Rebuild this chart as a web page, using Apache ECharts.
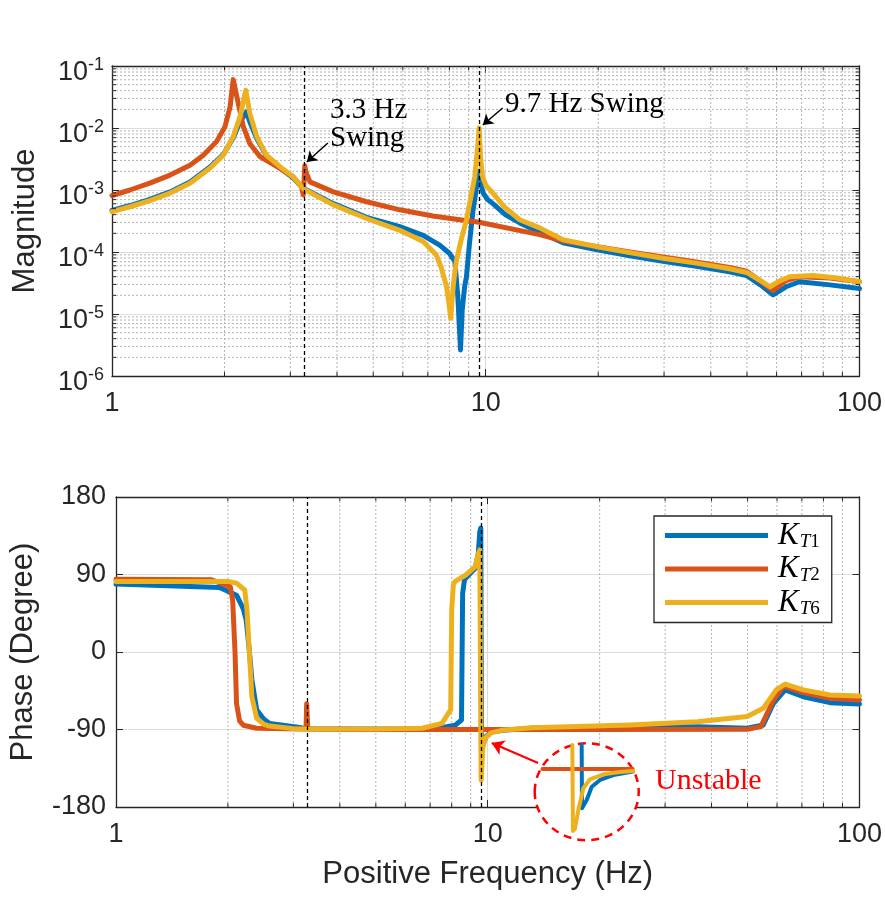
<!DOCTYPE html>
<html>
<head>
<meta charset="utf-8">
<script src="https://cdn.jsdelivr.net/npm/echarts@6/dist/echarts.min.js"></script>
<style>
html, body { margin: 0; padding: 0; background: #fff; }
#main { width: 885px; height: 905px; }
</style>
</head>
<body>
<div id="main"></div>
<script>
// ---- magnitude traces (Hz, |G|) ----
const magFreqT1 = [1.00, 1.117, 1.263, 1.43, 1.617, 1.828, 1.984, 2.11, 2.20, 2.29, 2.337, 2.44, 2.59, 2.81, 3.05, 3.25, 3.91, 4.8, 5.89, 6.8, 7.53, 7.99, 8.27, 8.42, 8.50, 8.56, 8.65, 8.78, 8.88, 9.05, 9.25, 9.45, 9.60, 9.70, 9.85, 10.1, 10.45, 11.3, 12.33, 13.94, 16.1, 19.7, 24.3, 29.8, 36.6, 44.9, 49.9, 54.3, 58.7, 63.6, 69.1, 83.3, 100];
const magT1 = [4.68e-4, 5.62e-4, 7.08e-4, 9.33e-4, 1.35e-3, 2.34e-3, 3.72e-3, 6.92e-3, 1.26e-2, 1.82e-2, 1.26e-2, 6.76e-3, 3.55e-3, 2.29e-3, 1.58e-3, 1.07e-3, 6.03e-4, 3.63e-4, 2.57e-4, 1.86e-4, 1.29e-4, 9.55e-5, 7.08e-5, 1.91e-5, 6.31e-6, 2.63e-6, 1.15e-5, 2.75e-5, 3.98e-5, 1.41e-4, 4.79e-4, 1.12e-3, 2.0e-3, 1.26e-3, 8.91e-4, 7.08e-4, 6.03e-4, 3.98e-4, 2.95e-4, 2.09e-4, 1.41e-4, 1.10e-4, 8.71e-5, 7.08e-5, 5.89e-5, 4.79e-5, 4.17e-5, 2.95e-5, 2.04e-5, 2.75e-5, 3.31e-5, 2.95e-5, 2.57e-5];

const magFreqT2 = [1.00, 1.117, 1.263, 1.43, 1.617, 1.755, 1.904, 2.006, 2.07, 2.11, 2.177, 2.246, 2.337, 2.487, 2.758, 3.05, 3.215, 3.25, 3.28, 3.30, 3.385, 3.91, 4.8, 5.89, 7.22, 8.52, 9.60, 13.94, 16.1, 19.7, 24.3, 29.8, 36.6, 44.9, 49.9, 54.3, 58.7, 63.6, 69.1, 83.3, 100];
const magT2 = [8.13e-4, 1.0e-3, 1.29e-3, 1.74e-3, 2.51e-3, 3.63e-3, 6.03e-3, 1.05e-2, 2.19e-2, 6.03e-2, 2.51e-2, 1.05e-2, 5.62e-3, 3.47e-3, 2.40e-3, 1.64e-3, 1.12e-3, 8.32e-4, 2.45e-3, 2.0e-3, 1.35e-3, 9.33e-4, 6.46e-4, 4.79e-4, 3.80e-4, 3.31e-4, 3.02e-4, 1.91e-4, 1.51e-4, 1.23e-4, 1.0e-4, 8.32e-5, 6.92e-5, 5.62e-5, 4.90e-5, 3.39e-5, 2.40e-5, 3.47e-5, 3.98e-5, 3.80e-5, 3.31e-5];

const magFreqT6 = [1.00, 1.117, 1.263, 1.43, 1.617, 1.828, 1.984, 2.11, 2.20, 2.28, 2.337, 2.44, 2.59, 2.81, 3.05, 3.25, 3.91, 4.8, 5.89, 6.8, 7.38, 7.60, 7.85, 7.98, 8.06, 8.12, 8.20, 8.35, 8.60, 8.88, 9.10, 9.35, 9.50, 9.60, 9.68, 9.80, 10.0, 10.45, 11.2, 12.33, 13.94, 16.1, 19.7, 24.3, 29.8, 36.6, 44.9, 49.9, 54.3, 57.6, 61, 65, 75, 87, 100];
const magT6 = [4.47e-4, 5.37e-4, 6.76e-4, 8.91e-4, 1.29e-3, 2.24e-3, 3.63e-3, 7.24e-3, 1.51e-2, 4.07e-2, 1.74e-2, 7.24e-3, 3.63e-3, 2.40e-3, 1.64e-3, 1.05e-3, 5.75e-4, 3.47e-4, 2.24e-4, 1.48e-4, 8.91e-5, 5.62e-5, 2.82e-5, 1.41e-5, 8.51e-6, 1.58e-5, 3.16e-5, 7.41e-5, 1.58e-4, 3.31e-4, 7.08e-4, 1.66e-3, 4.47e-3, 1.0e-2, 3.55e-3, 1.66e-3, 1.20e-3, 8.91e-4, 5.37e-4, 3.31e-4, 2.45e-4, 1.58e-4, 1.23e-4, 9.77e-5, 7.94e-5, 6.61e-5, 5.37e-5, 4.68e-5, 3.47e-5, 2.75e-5, 3.39e-5, 3.98e-5, 4.17e-5, 3.80e-5, 3.31e-5];

// ---- phase traces (Hz, degree) ----
const phFreqT1 = [1.0, 1.9, 2.11, 2.2, 2.24, 2.28, 2.32, 2.39, 2.5, 2.59, 3.05, 3.26, 4.0, 6.66, 7.5, 8.17, 8.5, 8.56, 8.66, 9.0, 9.25, 9.43, 9.52, 9.58, 9.62, 9.7, 9.9, 10.2, 11, 13.1, 24, 36.6, 49.9, 55.1, 58.7, 63.1, 70.6, 83.3, 100];
const phT1 = [79, 75, 66, 50, 37, 5, -32, -67, -78, -83, -87, -89, -89.5, -89, -88, -85, -79, 68, 84, 92, 97, 114, 140, 144, -125, -108, -98, -93, -91, -88.6, -87, -86.7, -88.6, -84.8, -59.5, -44, -51.9, -58.8, -60.4];

const phFreqT2 = [1.0, 1.8, 2.03, 2.06, 2.09, 2.11, 2.15, 2.2, 2.39, 3.2, 3.245, 3.258, 3.266, 3.28, 5, 20, 50, 54.3, 58.7, 62.5, 70.6, 83.3, 100];
const phT2 = [84.4, 84, 76, 60, 0, -60, -80, -85, -88.6, -89.5, -89.5, -60, -60, -89.5, -90, -90, -89.7, -86.7, -55.7, -39.5, -47.2, -53.8, -55.7];

const phFreqT6 = [1.0, 2.0, 2.11, 2.22, 2.25, 2.28, 2.32, 2.39, 2.5, 2.59, 3.0, 3.26, 5, 6.66, 7.53, 7.95, 8.0, 8.08, 8.17, 8.7, 9.25, 9.43, 9.52, 9.57, 9.60, 9.65, 9.7, 9.85, 10.2, 10.9, 13.1, 24.2, 36.6, 49.9, 55.1, 59.7, 63.1, 70.6, 83.3, 100];
const phT6 = [82, 82, 80, 72, 50, 6, -52, -77, -84, -86, -89, -89.5, -89.5, -88.6, -82.8, -67, 49, 78, 82, 89, 99, 114, 118.5, 120, -149, -130, -110, -100, -94, -91, -88, -84.8, -81, -75, -65.4, -44, -37.2, -44, -50, -51];

// ---- zoomed inset (local 0..100 units of the circle) ----
const insetU_T1 = [45.4, 45.7, 50.2, 55, 62.9, 75.5, 94.3];
const insetV_T1 = [97.9, 32.7, 41.2, 54.9, 61.9, 67, 70.6];
const insetU_T2 = [8, 94];
const insetV_T2 = [73.2, 73.2];
const insetU_T6 = [36.5, 37.1, 39, 42.2, 47, 53.3, 66, 81.9, 94.6];
const insetV_T6 = [97.9, 9.3, 11.5, 30.9, 53.3, 62.6, 67.7, 70.1, 71.1];

// ---- axes ticks / guides ----
const swingFreqs = [3.26, 9.6];
const minorMultipliers = [2, 3, 4, 5, 6, 7, 8, 9];
const freqDecades = [1, 10];
const magDecades = [1e-6, 1e-5, 1e-4, 1e-3, 1e-2];
const seriesNames = ['KT1', 'KT2', 'KT6'];
const colors = ['#0072BD', '#D95319', '#EDB120'];

const minorFreq = [];
freqDecades.forEach(d => minorMultipliers.forEach(m => minorFreq.push(m * d)));
const minorMag = [];
magDecades.forEach(d => minorMultipliers.forEach(m => minorMag.push(m * d)));

const pairs = (xs, ys) => xs.map((x, i) => [x, ys[i]]);

const axisColor = '#262626';
const sans = 'Liberation Sans';
const serif = 'Liberation Serif';

function guide(xi, yi, z, lines, style, symbol, symbolSize) {
    return {
        type: 'line', xAxisIndex: xi, yAxisIndex: yi, data: [], z: z, silent: true,
        markLine: {
            silent: true, animation: false, precision: 12,
            symbol: symbol || 'none', symbolSize: symbolSize || 0,
            label: {show: false},
            emphasis: {disabled: true},
            lineStyle: style,
            data: lines
        }
    };
}

// segments drawn through the axes: each item is [x1, y1, x2, y2] in data units,
// or a single point [x, y] plus a pixel direction for short tick marks
function segs(xi, yi, z, items, dir, style) {
    return {
        type: 'custom', xAxisIndex: xi, yAxisIndex: yi, z: z, silent: true, clip: false,
        data: items,
        renderItem: function (params, api) {
            const p = api.coord([api.value(0), api.value(1)]);
            let q;
            if (dir) {
                q = [p[0] + dir[0], p[1] + dir[1]];
            } else {
                q = api.coord([api.value(2), api.value(3)]);
            }
            return {type: 'line', shape: {x1: p[0], y1: p[1], x2: q[0], y2: q[1]}, style: style};
        }
    };
}

function trace(name, idx, xi, yi, data, width, z) {
    return {
        name: name, type: 'line', xAxisIndex: xi, yAxisIndex: yi,
        data: data, showSymbol: false, symbol: 'none', z: z || 2,
        lineStyle: {color: colors[idx], width: width || 5, join: 'round', cap: 'round'},
        itemStyle: {color: colors[idx]},
        emphasis: {disabled: true}
    };
}

const minorGridStyle = {stroke: '#b4b4b4', lineWidth: 1, lineDash: [2, 2]};
const tickStyle = {stroke: axisColor, lineWidth: 1};
const TL = 4;

function xAx(grid, pos, withLabel, name) {
    return {
        gridIndex: grid, type: 'log', logBase: 10, min: 1, max: 100, position: pos,
        name: name || '', nameLocation: 'middle', nameGap: 52,
        nameTextStyle: {fontFamily: sans, fontSize: 31, color: axisColor},
        axisLine: {onZero: false, lineStyle: {color: axisColor, width: 1.3}},
        axisTick: {inside: true, length: 7, lineStyle: {color: axisColor}},
        axisLabel: {show: withLabel, fontFamily: sans, fontSize: 27, color: axisColor, margin: 14},
        splitLine: {show: withLabel, lineStyle: {color: '#dcdcdc', width: 1}},
        minorTick: {show: false}
    };
}

const option = {
    animation: false,
    backgroundColor: '#fff',
    grid: [
        {left: 112, top: 66, width: 748, height: 310},
        {left: 112, top: 497, width: 748, height: 310},
        {left: 534, top: 743, width: 105, height: 97}
    ],
    xAxis: [
        xAx(0, 'bottom', true),
        xAx(0, 'top', false),
        xAx(1, 'bottom', true, 'Positive Frequency (Hz)'),
        xAx(1, 'top', false),
        {gridIndex: 2, type: 'value', min: 0, max: 100, show: false}
    ],
    yAxis: [
        {
            gridIndex: 0, type: 'log', logBase: 10, min: 1e-6, max: 1e-1, position: 'left',
            name: 'Magnitude', nameLocation: 'middle', nameGap: 71, nameRotate: 90,
            nameTextStyle: {fontFamily: sans, fontSize: 31, color: axisColor},
            axisLine: {lineStyle: {color: axisColor, width: 1.3}},
            axisTick: {inside: true, length: 7, lineStyle: {color: axisColor}},
            axisLabel: {
                fontFamily: sans, color: axisColor, margin: 8,
                formatter: v => '{b|10}{e|' + Math.round(Math.log10(v)) + '}',
                rich: {
                    b: {fontFamily: sans, fontSize: 27, color: axisColor, padding: [14, 0, 0, 0]},
                    e: {fontFamily: sans, fontSize: 18, color: axisColor, padding: [0, 0, 2, 0]}
                }
            },
            splitLine: {show: true, lineStyle: {color: '#dcdcdc', width: 1}}
        },
        {
            gridIndex: 0, type: 'log', logBase: 10, min: 1e-6, max: 1e-1, position: 'right',
            axisLine: {lineStyle: {color: axisColor, width: 1.3}},
            axisTick: {inside: true, length: 7, lineStyle: {color: axisColor}},
            axisLabel: {show: false}, splitLine: {show: false}
        },
        {
            gridIndex: 1, type: 'value', min: -180, max: 180, interval: 90, position: 'left',
            name: 'Phase (Degree)', nameLocation: 'middle', nameGap: 77, nameRotate: 90,
            nameTextStyle: {fontFamily: sans, fontSize: 31, color: axisColor},
            axisLine: {show: true, onZero: false, lineStyle: {color: axisColor, width: 1.3}},
            axisTick: {show: true, inside: true, length: 7, lineStyle: {color: axisColor}},
            axisLabel: {fontFamily: sans, fontSize: 27, color: axisColor, margin: 10},
            splitLine: {show: true, lineStyle: {color: '#dcdcdc', width: 1}}
        },
        {
            gridIndex: 1, type: 'value', min: -180, max: 180, interval: 90, position: 'right',
            axisLine: {show: true, onZero: false, lineStyle: {color: axisColor, width: 1.3}},
            axisTick: {show: true, inside: true, length: 7, lineStyle: {color: axisColor}},
            axisLabel: {show: false}, splitLine: {show: false}
        },
        {gridIndex: 2, type: 'value', min: 0, max: 100, show: false}
    ],
    legend: {
        data: seriesNames,
        orient: 'vertical', left: 654, top: 516,
        icon: 'rect', itemWidth: 103, itemHeight: 5, itemGap: 2,
        padding: [4, 12, 4, 11],
        borderColor: axisColor, borderWidth: 1.3, backgroundColor: '#fff',
        selectedMode: false,
        formatter: n => '{k|K}{t|T}{n|' + n.slice(2) + '}',
        textStyle: {
            rich: {
                k: {fontFamily: serif, fontStyle: 'italic', fontSize: 31, color: '#000', padding: [0, 1, 0, 5]},
                t: {fontFamily: serif, fontStyle: 'italic', fontSize: 19, color: '#000', padding: [13, 0, 0, 0]},
                n: {fontFamily: serif, fontSize: 19, color: '#000', padding: [13, 0, 0, 0]}
            }
        }
    },
    graphic: [
        {type: 'text', x: 330, y: 110, z: 10, style: {text: '3.3 Hz', fontFamily: serif, fontSize: 29, fill: '#000', verticalAlign: 'middle'}},
        {type: 'text', x: 330, y: 138, z: 10, style: {text: 'Swing', fontFamily: serif, fontSize: 29, fill: '#000', verticalAlign: 'middle'}},
        {type: 'text', x: 505, y: 104, z: 10, style: {text: '9.7 Hz Swing', fontFamily: serif, fontSize: 29, fill: '#000', verticalAlign: 'middle'}},
        {type: 'text', x: 655, y: 781, z: 10, style: {text: 'Unstable', fontFamily: serif, fontSize: 30, fill: '#f00', verticalAlign: 'middle'}},
        {type: 'ellipse', z: 5, shape: {cx: 586.7, cy: 791.7, rx: 52, ry: 48.5},
         style: {fill: '#fff', stroke: '#f00', lineWidth: 2.5, lineDash: [8, 6]}}
    ],
    series: [
        // minor grid
        segs(0, 0, 1, minorFreq.map(f => [f, 1e-6, f, 1e-1]).concat(minorMag.map(v => [1, v, 100, v])), null, minorGridStyle),
        segs(2, 2, 1, minorFreq.map(f => [f, -180, f, 180]), null, minorGridStyle),

        trace('KT1', 0, 0, 0, pairs(magFreqT1, magT1)),
        trace('KT2', 1, 0, 0, pairs(magFreqT2, magT2)),
        trace('KT6', 2, 0, 0, pairs(magFreqT6, magT6)),
        trace('KT1', 0, 2, 2, pairs(phFreqT1, phT1)),
        trace('KT2', 1, 2, 2, pairs(phFreqT2, phT2)),
        trace('KT6', 2, 2, 2, pairs(phFreqT6, phT6)),

        // minor ticks, inside, on all four sides
        segs(0, 0, 3, minorMag.map(v => [1, v]), [TL, 0], tickStyle),
        segs(0, 0, 3, minorMag.map(v => [100, v]), [-TL, 0], tickStyle),
        segs(0, 0, 3, minorFreq.map(f => [f, 1e-6]), [0, -TL], tickStyle),
        segs(0, 0, 3, minorFreq.map(f => [f, 1e-1]), [0, TL], tickStyle),
        segs(2, 2, 3, minorFreq.map(f => [f, -180]), [0, -TL], tickStyle),
        segs(2, 2, 3, minorFreq.map(f => [f, 180]), [0, TL], tickStyle),

        // swing frequency markers
        guide(0, 0, 4, swingFreqs.map(f => ({xAxis: f})), {color: '#000', width: 1.3, type: [4, 3]}),
        guide(2, 2, 4, swingFreqs.map(f => ({xAxis: f})), {color: '#000', width: 1.3, type: [4, 3]}),

        // annotation arrows
        guide(0, 0, 6, [
            [{coord: [3.78, 5.73e-3]}, {coord: [3.32, 2.83e-3]}],
            [{coord: [11.1, 0.021]}, {coord: [9.82, 0.0112]}]
        ], {color: '#000', width: 1.5, type: 'solid'}, ['none', 'arrow'], 10),
        guide(2, 2, 6, [
            [{coord: [13.66, -128.9]}, {coord: [10.25, -105.7]}]
        ], {color: '#f00', width: 2, type: 'solid'}, ['none', 'arrow'], 12),

        // inset
        trace('inset1', 0, 4, 4, pairs(insetU_T1, insetV_T1), 4, 10),
        trace('inset2', 1, 4, 4, pairs(insetU_T2, insetV_T2), 4, 10),
        trace('inset6', 2, 4, 4, pairs(insetU_T6, insetV_T6), 4, 10)
    ]
};

const chart = echarts.init(document.getElementById('main'), null, {renderer: 'canvas'});
chart.setOption(option);
</script>
</body>
</html>
